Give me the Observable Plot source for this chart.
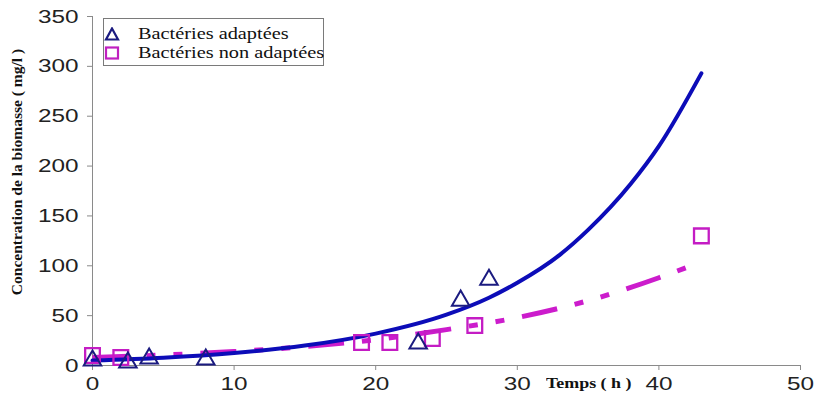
<!DOCTYPE html>
<html>
<head>
<meta charset="utf-8">
<script src="https://cdn.jsdelivr.net/npm/d3@7"></script>
<script src="https://cdn.jsdelivr.net/npm/@observablehq/plot@0.6"></script>
<style>
  html, body { margin: 0; padding: 0; background: #fff; }
  #wrap { position: relative; width: 814px; height: 401px; overflow: hidden; }
  #wrap svg { position: absolute; left: 0; top: 0; }
  .ylab { position: absolute; left: 17px; top: 172px; white-space: nowrap;
    font: bold 15.5px "Liberation Serif", serif; color: #111;
    transform: translate(-50%, -50%) rotate(-90deg); }
  .xlab { position: absolute; left: 546px; top: 377px; white-space: nowrap;
    font: bold 14px "Liberation Serif", serif; color: #111; line-height: 14px;
    transform: scaleX(1.28); transform-origin: left center; }
  .legend { position: absolute; left: 103px; top: 18px; width: 221px; height: 48px;
    box-sizing: border-box; border: 1px solid #7a7a7a; background: #fff; }
  .legend .t { position: absolute; left: 34px; white-space: nowrap;
    font: 16px "Liberation Serif", serif; color: #111; line-height: 16px;
    transform: scaleX(1.27); transform-origin: left center; }
  .legend svg { position: absolute; left: 18px; }
</style>
</head>
<body>
<div id="wrap">
  <div class="ylab">Concentration de la biomasse ( mg/l )</div>
  <div class="xlab">Temps ( h )</div>
  <div class="legend">
    <svg width="16" height="14" style="top:8px"><path d="M8,1.5 L14,12.5 L2,12.5 Z" fill="none" stroke="#1b1b80" stroke-width="2.2"/></svg>
    <div class="t" style="top:7px">Bactéries adaptées</div>
    <svg width="16" height="14" style="top:27px"><rect x="2" y="1.5" width="12" height="11" fill="none" stroke="#c020c0" stroke-width="2.2"/></svg>
    <div class="t" style="top:26px">Bactéries non adaptées</div>
  </div>
</div>
<script>
// Tick labels
const xTicks = [0, 10, 20, 30, 40, 50];
const yTicks = [0, 50, 100, 150, 200, 250, 300, 350];

// Measured points — Bactéries adaptées (triangles)
const adapX = [0, 2.5, 4, 8, 23, 26, 28];
const adapY = [5, 3, 7, 6, 22, 65, 86];

// Measured points — Bactéries non adaptées (squares)
const nonX = [0, 2, 19, 21, 24, 27, 43];
const nonY = [10, 8, 23, 23, 27, 40, 130];

// Trend curve — adaptées (solid blue)
const trendAdapX = [0, 5, 10, 15, 20, 25, 28, 30, 33, 35, 38, 40, 43];
const trendAdapY = [5, 7.8, 12.5, 20, 32, 51, 68, 83, 111, 136, 182, 220, 293];

// Trend curve — non adaptées (magenta dash-dot-dot)
const trendNonX = [0, 5, 10, 15, 20, 25, 30, 35, 40, 43];
const trendNonY = [8, 10.5, 14, 19, 26, 36, 48, 65, 88, 104];

const adap = adapX.map((x, i) => ({x, y: adapY[i]}));
const non = nonX.map((x, i) => ({x, y: nonY[i]}));
const tAdap = trendAdapX.map((x, i) => ({x, y: trendAdapY[i]}));
const tNon = trendNonX.map((x, i) => ({x, y: trendNonY[i]}));

const chart = Plot.plot({
  width: 814,
  height: 401,
  marginLeft: 92,
  marginRight: 14,
  marginTop: 16,
  marginBottom: 36,
  style: {fontFamily: "'Liberation Sans', Arial, sans-serif", fontSize: "19px", color: "#222", background: "transparent"},
  x: {domain: [0, 50]},
  y: {domain: [0, 350]},
  marks: [
    Plot.ruleX([0], {stroke: "#8a8a8a", strokeWidth: 1}),
    Plot.ruleY([0], {stroke: "#8a8a8a", strokeWidth: 1}),
    Plot.axisX({ticks: xTicks, tickSize: 5, tickPadding: 6, stroke: "#8a8a8a", label: null, fontSize: 19}),
    Plot.axisY({ticks: yTicks, tickSize: 5, tickPadding: 9, stroke: "#8a8a8a", label: null, fontSize: 19}),
    Plot.line(tNon, {x: "x", y: "y", curve: "monotone-x", stroke: "#cc1ccc", strokeWidth: 5,
      strokeDasharray: "36,18,9,18,9,18", strokeLinecap: "butt"}),
    Plot.line(tAdap, {x: "x", y: "y", curve: "monotone-x", stroke: "#0c0cb8", strokeWidth: 4}),
    Plot.dot(non, {x: "x", y: "y", symbol: "square", r: 8.3, fill: "none", stroke: "#c41cc4", strokeWidth: 2.3}),
    Plot.dot(adap, {x: "x", y: "y", symbol: "triangle", r: 6.5, fill: "none", stroke: "#1b1b80", strokeWidth: 2})
  ]
});

const wrap = document.getElementById("wrap");
wrap.insertBefore(chart, wrap.firstChild);

// horizontal stretch of tick labels, as in the reference
d3.select(chart).selectAll('g[aria-label$="tick label"] text').each(function() {
  const t = this.getAttribute("transform") || "";
  this.setAttribute("transform", t + " scale(1.28,1)");
});
</script>
</body>
</html>
